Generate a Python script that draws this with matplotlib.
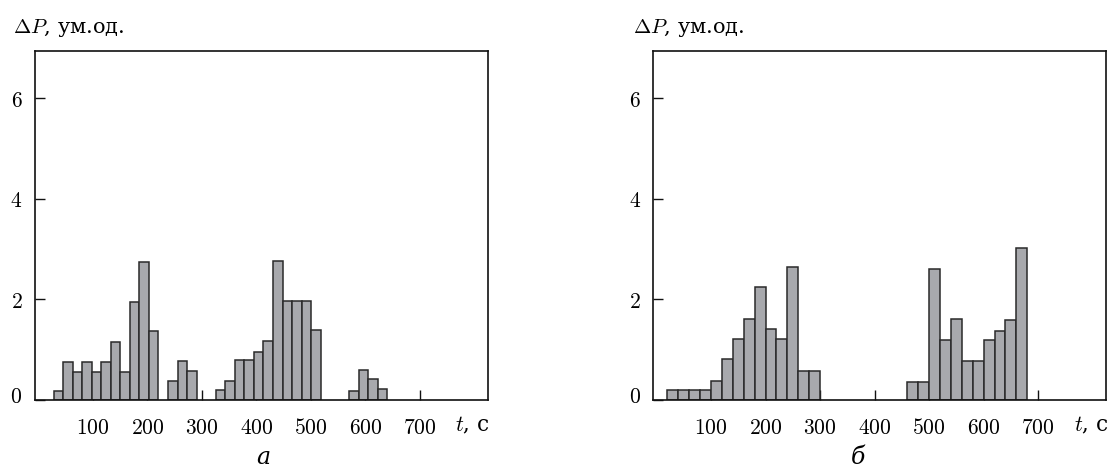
import matplotlib
matplotlib.use("Agg")
import matplotlib.pyplot as plt
from matplotlib import transforms

plt.rcParams['mathtext.fontset'] = 'cm'
plt.rcParams['font.family'] = ['DejaVu Serif']

# ---- data ----
# panel "а": bins of ~17.5 s
t_a = [36.8, 54.3, 71.8, 89.3, 106.8, 124.3, 141.8, 159.3, 176.8, 194.3, 211.8,
       246.8, 264.3, 281.8,
       334.3, 351.8, 369.3, 386.8, 404.3, 421.8, 439.3, 456.8, 474.3, 491.8, 509.3,
       579.3, 596.8, 614.3, 631.8]
dp_a = [0.17, 0.75, 0.56, 0.75, 0.56, 0.75, 1.15, 0.56, 1.94, 2.74, 1.37,
        0.38, 0.77, 0.58,
        0.19, 0.38, 0.79, 0.79, 0.95, 1.18, 2.77, 1.97, 1.97, 1.97, 1.39,
        0.17, 0.60, 0.41, 0.22]
width_a = 17.5

# panel "б": bins of 20 s
t_b = [30, 50, 70, 90, 110, 130, 150, 170, 190, 210, 230, 250, 270, 290,
       470, 490, 510, 530, 550, 570, 590, 610, 630, 650, 670]
dp_b = [0.19, 0.19, 0.19, 0.19, 0.38, 0.81, 1.21, 1.62, 2.24, 1.41, 1.21, 2.64, 0.58, 0.58,
        0.36, 0.36, 2.61, 1.19, 1.62, 0.78, 0.78, 1.19, 1.38, 1.60, 3.02]
width_b = 20

xticks = [100, 200, 300, 400, 500, 600, 700]
yticks = [0, 2, 4, 6]
ylabel_text = r"$\Delta P$, ум.од."
xlabel_text = r"$t$, с"
panel_labels = ["а", "б"]

W, H = 1110, 473
fig = plt.figure(figsize=(W / 100, H / 100), dpi=100)

panels = [
    (t_a, dp_a, width_a, 35.0, panel_labels[0], 412, 12.7),
    (t_b, dp_b, width_b, 653.3, panel_labels[1], 370, 633.0),
]

bar_face = '#a8a9ad'
bar_edge = '#2a2a2a'

for (t, dp, wbin, x0px, plabel, plabel_x, ylab_x) in panels:
    ax = fig.add_axes([x0px / W, 1 - 400 / H, 453 / W, 349 / H])
    ax.bar(t, dp, width=wbin, color=bar_face, edgecolor=bar_edge, linewidth=1.1,
           align='center', zorder=2)
    ax.set_axisbelow(True)
    ax.set_xlim(-6, 825)
    ax.set_ylim(0, 6.94)
    for s in ax.spines.values():
        s.set_linewidth(1.2)
        s.set_color('#111111')
        s.set_zorder(3)
    ax.set_xticks(xticks)
    ax.set_xticklabels([f"${v}$" for v in xticks])
    ax.set_yticks(yticks)
    ax.set_yticklabels([f"${v}$" for v in yticks])
    ax.tick_params(axis='both', direction='in', length=7.5, width=1.0, color='#111111',
                   labelsize=15.5)
    ax.tick_params(axis='x', pad=12)
    ax.tick_params(axis='y', pad=9)
    # raise the "0" label slightly as in the reference
    lbl0 = ax.get_yticklabels()[0]
    lbl0.set_transform(lbl0.get_transform() +
                       transforms.ScaledTranslation(0, 6 / 100, fig.dpi_scale_trans))
    trans = transforms.blended_transform_factory(ax.transData, ax.transAxes)
    ax.text(797, -25 / 349, xlabel_text, transform=trans, ha='center', va='center',
            fontsize=15.5)
    ax.text(plabel_x, -57 / 349, plabel, transform=trans, ha='center', va='center',
            fontsize=17, style='italic')
    fig.text(ylab_x / W, 1 - 28 / H, ylabel_text, ha='left', va='center', fontsize=15)

fig.savefig("out.png", dpi=100)
